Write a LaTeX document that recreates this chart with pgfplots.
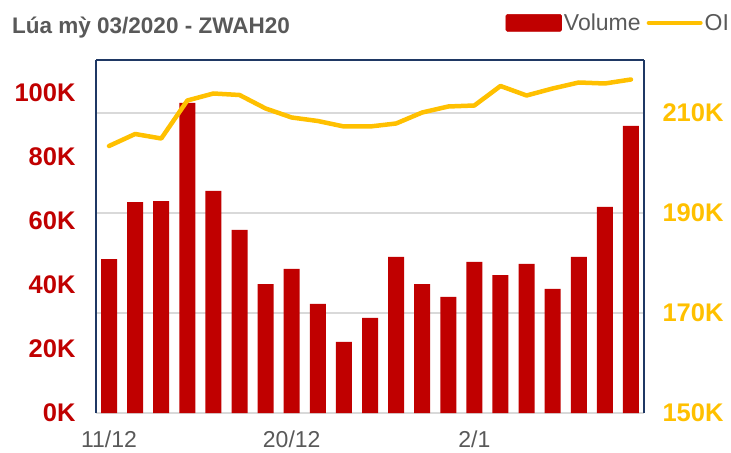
\documentclass[border=0pt]{standalone}
\usepackage{pgfplots}
\pgfplotsset{compat=1.18}
\usepackage{fontspec}
\setmainfont{Liberation Sans}
\definecolor{barred}{HTML}{C00000}
\definecolor{gold}{HTML}{FFC000}
\definecolor{txtgrey}{HTML}{595959}
\definecolor{gridgrey}{HTML}{D9D9D9}
\definecolor{navy}{HTML}{1F3864}
\pgfplotsset{common/.style={at={(96bp,40bp)}, anchor=south west,
  scale only axis, width=548bp, height=353bp, xmin=-0.5, xmax=20.5, clip=false}}
\begin{document}
\begin{tikzpicture}
\useasboundingbox (0,0) rectangle (731bp,453bp);
\node[anchor=base west, inner sep=0, text=txtgrey, font=\fontsize{22.5bp}{22.5bp}\selectfont\bfseries] at (12bp,419bp) {Lúa mỳ 03/2020 - ZWAH20};
% grid layer
\begin{axis}[common, ymin=150, ymax=220.6,
  axis line style={draw=none}, xtick=\empty, ytick={170,190,210}, yticklabels={},
  major tick length=0pt, tick style={draw=none}, ytick align=inside,
  ymajorgrids, major grid style={draw=gridgrey, line width=1.2bp}]
\end{axis}
\begin{axis}[common, ymin=0, ymax=110.3125,
  axis x line*=bottom, axis y line*=left,
  x axis line style={draw=gridgrey, line width=1.5bp},
  y axis line style={draw=navy, line width=1.5bp},
  xtick={0,7,14}, xticklabels={11/12,20/12,2/1},
  ytick={0,20,40,60,80,100}, yticklabels={0K,20K,40K,60K,80K,100K},
  major tick length=0, tick style={draw=none},
  yticklabel style={text=barred, font=\fontsize{25.5bp}{25.5bp}\selectfont\bfseries, xshift=-17bp},
  xticklabel style={text=txtgrey, font=\fontsize{23bp}{23bp}\selectfont, yshift=-14bp},
]
\addplot[ybar, bar width=16bp, fill=barred, draw=none] coordinates {
(0,48.1) (1,65.9) (2,66.2) (3,96.9) (4,69.4) (5,57.2) (6,40.3) (7,45.0) (8,34.1) (9,22.2) (10,29.7)
(11,48.8) (12,40.3) (13,36.3) (14,47.2) (15,43.1) (16,46.6) (17,38.8) (18,48.8) (19,64.4) (20,89.7)
};
\end{axis}
\begin{axis}[common, ymin=150, ymax=220.6,
  axis x line*=top, axis y line*=right,
  axis line style={draw=navy, line width=1.5bp},
  xtick=\empty,
  ytick={150,170,190,210}, yticklabels={150K,170K,190K,210K},
  major tick length=0, tick style={draw=none},
  yticklabel style={text=gold, font=\fontsize{25.5bp}{25.5bp}\selectfont\bfseries, xshift=15bp},
  legend columns=2,
  legend style={at={(1.159,1.105)}, anchor=east, draw=none, fill=none, inner sep=0pt,
    font=\fontsize{23bp}{23bp}\selectfont, text=txtgrey, cells={anchor=west},
    /tikz/every even column/.append style={column sep=4bp}},
]
\addlegendimage{legend image code/.code={\fill[barred, rounded corners=1.5bp] (0bp,-8.5bp) rectangle (56bp,8.5bp);}}
\addlegendentry{Volume}
\addplot[gold, line width=4.5bp, line join=round, line cap=round,
  legend image code/.code={\draw[gold, line width=4bp, line cap=round] (0bp,0bp) -- (52bp,0bp);}] coordinates {
(0,203.4) (1,205.8) (2,204.9) (3,212.5) (4,213.9) (5,213.6) (6,210.9) (7,209.1) (8,208.4) (9,207.3) (10,207.3)
(11,207.9) (12,210.1) (13,211.3) (14,211.5) (15,215.4) (16,213.5) (17,214.9) (18,216.1) (19,215.9) (20,216.7)
};
\addlegendentry{OI}
\end{axis}
\end{tikzpicture}
\end{document}
